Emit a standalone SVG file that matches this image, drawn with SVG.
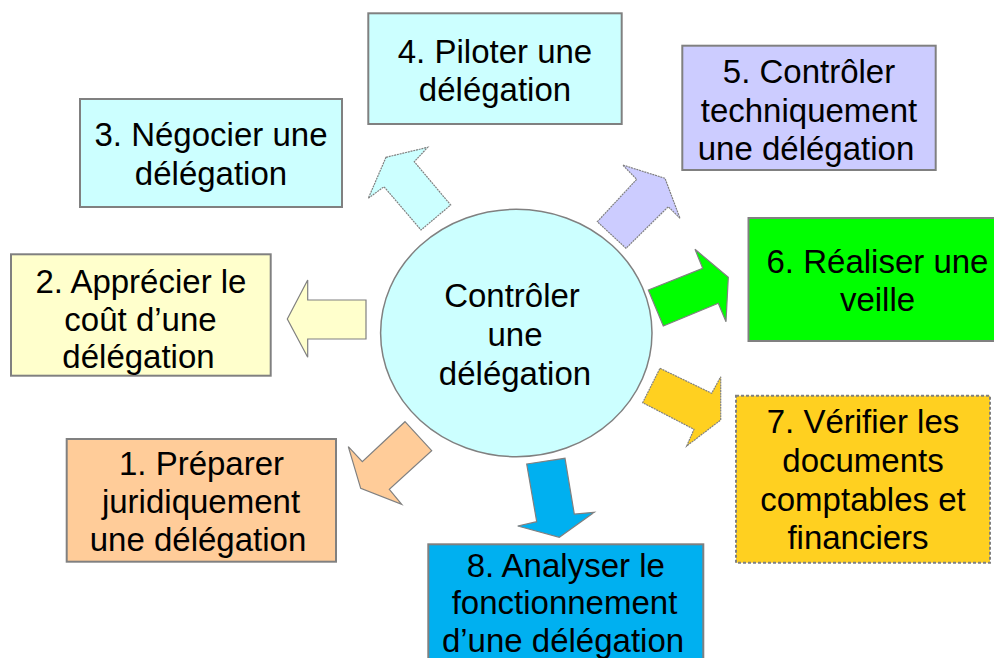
<svg xmlns="http://www.w3.org/2000/svg" width="994" height="658" viewBox="0 0 994 658">
<style>
.box{stroke:#808080;stroke-width:2}
.arr{stroke:#808080;stroke-width:1.2;stroke-linejoin:miter}
.dot{stroke-dasharray:2 0.8}
text{font-family:"Liberation Sans",Arial,sans-serif;font-size:33px;fill:#000;text-anchor:middle}
</style>
<rect width="994" height="658" fill="#ffffff"/>
<g id="connectors">
<polygon class="arr dot" fill="#ccffff" points="386,157.3 427.7,147.3 414.3,161.7 450.7,205 421,230 384,186.7 368.3,198.3"/>
<polygon class="arr" fill="#ffffcc" points="287.3,319 307.7,280 307.7,300 366,300 366,339 307.7,339 307.7,357.3"/>
<polygon class="arr dot" fill="#ccccff" points="665,178.3 622.7,165 636.7,179.3 597.3,221.7 626,248.3 668.3,206.7 680,218.3"/>
<polygon class="arr" fill="#00ff00" points="648.3,290 702.7,268.3 695,249.3 728.3,277.3 726,321.7 718.3,303.3 663.3,326"/>
<polygon class="arr dot" fill="#ffd020" points="660,368.3 711.7,393.3 720.7,376.7 720.7,420 686.7,446 694,429.3 642.7,402.7"/>
<polygon class="arr" fill="#ffcc99" points="405,421.7 431.7,450.7 389.3,489.3 401.7,504.3 360.7,488.3 348.3,446.7 362.3,461.7"/>
<polygon class="arr" fill="#00b0f0" points="526.7,464 565,458.3 574.3,514 594.3,512.3 559.3,537.3 517.7,526 536.7,521.7"/>
</g>
<g id="center">
<ellipse cx="516.3" cy="333" rx="135.7" ry="123.7" fill="#ccffff" stroke="#808080" stroke-width="1.5"/>
<text x="512" y="307">Contrôler</text>
<text x="515" y="346">une</text>
<text x="515" y="385">délégation</text>
</g>
<g id="n4">
<rect class="box" x="368.3" y="13.3" width="253.4" height="110.7" fill="#ccffff"/>
<text x="495" y="63.3">4. Piloter une</text>
<text x="495" y="101">délégation</text>
</g>
<g id="n3">
<rect class="box" x="80" y="99" width="262" height="108" fill="#ccffff"/>
<text x="211" y="146">3. Négocier une</text>
<text x="211" y="184.5">délégation</text>
</g>
<g id="n5">
<rect class="box" x="682.3" y="45.7" width="253.4" height="124.3" fill="#ccccff"/>
<text x="809" y="83.3">5. Contrôler</text>
<text x="809" y="121.7">techniquement</text>
<text x="806" y="160">une délégation</text>
</g>
<g id="n6">
<rect class="box" x="748.5" y="218" width="258" height="123" fill="#00ff00"/>
<text x="877.5" y="273">6. Réaliser une</text>
<text x="877.5" y="311">veille</text>
</g>
<g id="n2">
<rect class="box" x="11" y="254.3" width="259.7" height="121.4" fill="#ffffcc"/>
<text x="141" y="293.3">2. Apprécier le</text>
<text x="140.5" y="330.5">coût d’une</text>
<text x="138.5" y="368.3">délégation</text>
</g>
<g id="n7">
<rect class="box" x="736" y="395.7" width="254" height="167" fill="#ffd020" stroke-dasharray="3 2"/>
<text x="863" y="433.3">7. Vérifier les</text>
<text x="863" y="472">documents</text>
<text x="863" y="510.7">comptables et</text>
<text x="858" y="549.3">financiers</text>
</g>
<g id="n1">
<rect class="box" x="66.7" y="439" width="269.3" height="122.7" fill="#ffcc99"/>
<text x="201.5" y="475">1. Préparer</text>
<text x="201" y="513.3">juridiquement</text>
<text x="198" y="551">une délégation</text>
</g>
<g id="n8">
<rect class="box" x="428.3" y="544.3" width="275" height="130" fill="#00b0f0"/>
<text x="565.8" y="576.7">8. Analyser le</text>
<text x="564.5" y="614">fonctionnement</text>
<text x="563" y="651.7">d’une délégation</text>
</g>
</svg>
